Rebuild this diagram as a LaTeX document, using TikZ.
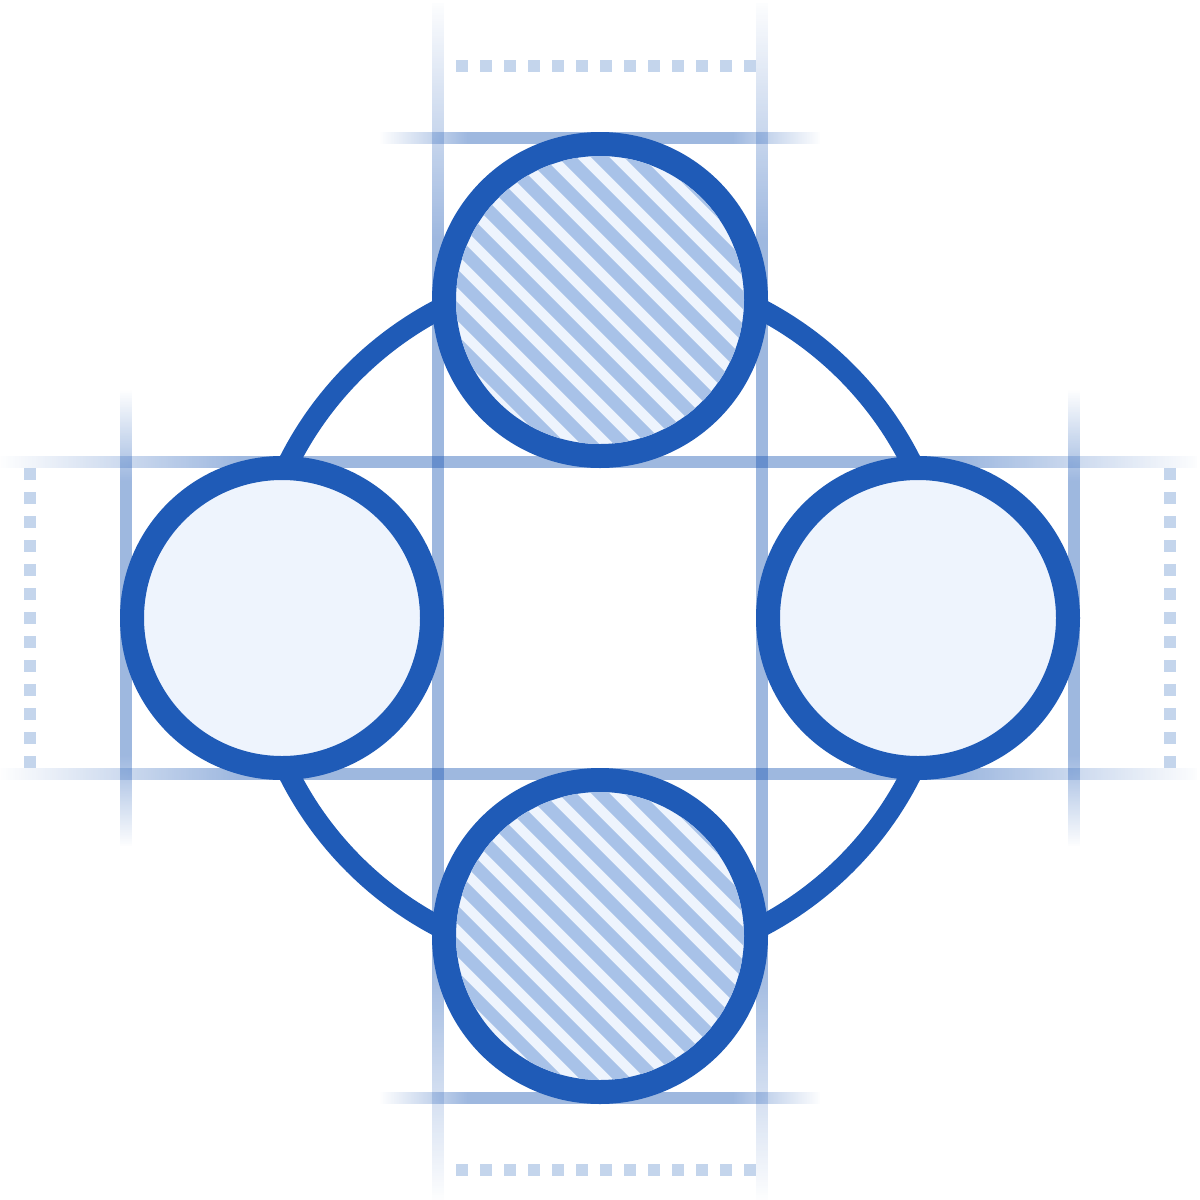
\documentclass[tikz,border=0pt]{standalone}
\usetikzlibrary{fadings}
\definecolor{mainblue}{RGB}{31,91,183}
\definecolor{paleblue}{RGB}{238,244,253}
\definecolor{stripeblue}{RGB}{168,194,232}
\definecolor{dotblue}{RGB}{196,213,236}
\pgfdeclarehorizontalshading{guidefadeH}{100bp}{color(0bp)=(black); color(25bp)=(black); color(35bp)=(white); color(65bp)=(white); color(75bp)=(black); color(100bp)=(black)}
\pgfdeclarefading{guideh}{\pgfuseshading{guidefadeH}}
\pgfdeclareverticalshading{guidefadeV}{100bp}{color(0bp)=(black); color(25bp)=(black); color(35bp)=(white); color(65bp)=(white); color(75bp)=(black); color(100bp)=(black)}
\pgfdeclarefading{guidev}{\pgfuseshading{guidefadeV}}
\tikzset{
  guideline/.style={fill=mainblue, fill opacity=0.43},
  ring/.style={circle, draw=mainblue, line width=24pt, fill=paleblue, inner sep=0pt, outer sep=0pt},
  stripe/.style={draw=stripeblue, line width=13pt},
  dotline/.style={draw=dotblue, line width=12pt, dash pattern=on 12pt off 12pt},
  linkarc/.style={draw=mainblue, line width=21pt}
}
\begin{document}
\begin{tikzpicture}[x=1pt,y=-1pt]
\fill[white] (0,0) rectangle (1200,1200);
\useasboundingbox (0,0) rectangle (1200,1200);
\coordinate (O) at (600,618);
% guide lines
\fill[guideline, path fading=guidev] (432,0) rectangle (444,1200);
\fill[guideline, path fading=guidev] (756,0) rectangle (768,1200);
\fill[guideline, path fading=guideh] (0,456) rectangle (1200,468);
\fill[guideline, path fading=guideh] (0,768) rectangle (1200,780);
\fill[guideline, path fading=guidev] (120,390) rectangle (132,846);
\fill[guideline, path fading=guidev] (1068,390) rectangle (1080,846);
\fill[guideline, path fading=guideh] (380,132) rectangle (820,144);
\fill[guideline, path fading=guideh] (380,1092) rectangle (820,1104);
% dotted margins
\coordinate (dt1) at (456,66);   \coordinate (dt2) at (756,66);
\coordinate (db1) at (456,1170); \coordinate (db2) at (756,1170);
\coordinate (dl1) at (30,468);   \coordinate (dl2) at (30,768);
\coordinate (dr1) at (1170,468); \coordinate (dr2) at (1170,768);
\draw[dotline] (dt1) -- (dt2);
\draw[dotline] (db1) -- (db2);
\draw[dotline] (dl1) -- (dl2);
\draw[dotline] (dr1) -- (dr2);
% connecting ring
\draw[linkarc] (O) circle[radius=348];
% circles
\node[ring, minimum size=312pt] (T) at (600,300) {};
\node[ring, minimum size=312pt] (B) at (600,936) {};
\node[ring, minimum size=300pt] (L) at (282,618) {};
\node[ring, minimum size=300pt] (R) at (918,618) {};
% hatching
\begin{scope}
  \clip (T.center) circle[radius=144];
  \foreach \k in {-8,...,8}
    \draw[stripe] ([xshift=\k*33pt+11pt]T.center) ++(-220,-220) -- ++(440,440);
\end{scope}
\begin{scope}
  \clip (B.center) circle[radius=144];
  \foreach \k in {-8,...,8}
    \draw[stripe] ([xshift=\k*33pt+11pt]B.center) ++(-220,-220) -- ++(440,440);
\end{scope}
\end{tikzpicture}
\end{document}
